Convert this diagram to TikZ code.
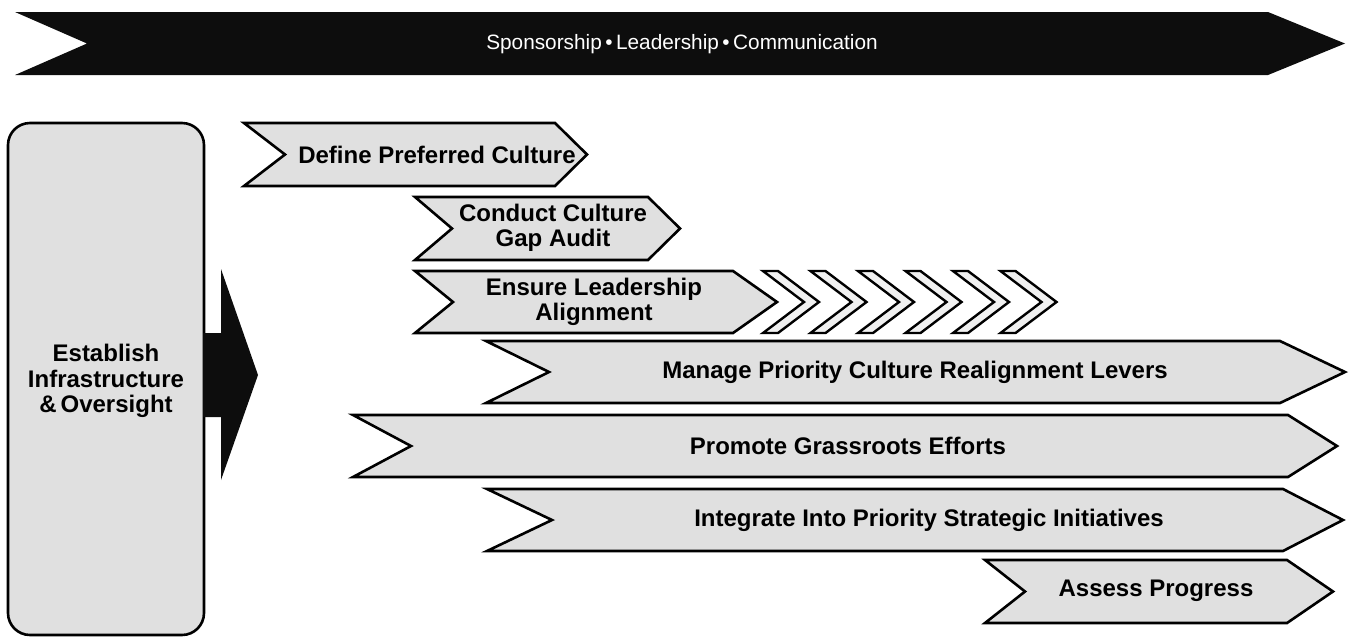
\documentclass[tikz,border=0pt]{standalone}
\usepackage{fontspec}
\setmainfont{Liberation Sans}
\begin{document}
\begin{tikzpicture}[x=1pt,y=-1pt,
  chev/.style={draw=black,line width=2.6pt,fill=black!12,line join=miter},
  smallchev/.style={draw=black,line width=2.4pt,fill=black!6,line join=miter},
  lbl/.style={font=\bfseries\fontsize{24}{25.5}\selectfont,align=center,inner sep=0pt,text=black},
  banner/.style={fill=black!95,draw=none}]
\useasboundingbox (0,0) rectangle (1354,638);
% top banner
\path[banner] (15,12) -- (1268,12) -- (1345,43.5) -- (1268,75) -- (15,75) -- (87,43.5) -- cycle;
\node[font=\fontsize{20.8}{23}\selectfont,text=white,inner sep=0pt] (spons) at (682,44) {Sponsorship\,\textbullet\,Leadership\,\textbullet\,Communication};
% left box and arrow
\draw[chev,rounded corners=22pt] (8,123) rectangle (204,635);
\fill[black!95] (203,333) -- (221,333) -- (221,269) -- (258,375) -- (221,480) -- (221,417) -- (203,417) -- cycle;
\node[lbl] (infra) at (106,381) {Establish\\Infrastructure\\\&\,Oversight};
% chevrons
\draw[chev] (244,123) -- (555,123) -- (587,154.5) -- (555,186) -- (244,186) -- (285,154.5) -- cycle;
\node[lbl] (define) at (437,155) {Define Preferred Culture};
\draw[chev] (415,197) -- (648,197) -- (680,228.5) -- (648,260) -- (415,260) -- (452,228.5) -- cycle;
\node[lbl] (conduct) at (553,228) {Conduct Culture\\Gap Audit};
\draw[chev] (415,271) -- (733,271) -- (777,302) -- (733,333) -- (415,333) -- (453,302) -- cycle;
\node[lbl] (ensure) at (594,302) {Ensure Leadership\\Alignment};
\foreach \i in {0,...,5}{
  \pgfmathsetmacro{\xo}{763+47.5*\i}
  \draw[smallchev] (\xo,271) -- (\xo+15,271) -- (\xo+56,302) -- (\xo+15,333) -- (\xo,333) -- (\xo+41,302) -- cycle;
}
\draw[chev] (486,341) -- (1280,341) -- (1345,372) -- (1280,403) -- (486,403) -- (549,372) -- cycle;
\node[lbl] (manage) at (915,372) {Manage Priority Culture Realignment Levers};
\draw[chev] (353,415) -- (1288,415) -- (1337,446) -- (1288,477) -- (353,477) -- (411,446) -- cycle;
\node[lbl] (promote) at (848,446) {Promote Grassroots Efforts};
\draw[chev] (487,489) -- (1283,489) -- (1343,520) -- (1283,551) -- (487,551) -- (552,520) -- cycle;
\node[lbl] (integrate) at (929,520) {Integrate Into Priority Strategic Initiatives};
\draw[chev] (985,560) -- (1287,560) -- (1333,591.5) -- (1287,623) -- (985,623) -- (1025,591.5) -- cycle;
\node[lbl] (assess) at (1156,591) {Assess Progress};
\end{tikzpicture}
\end{document}
